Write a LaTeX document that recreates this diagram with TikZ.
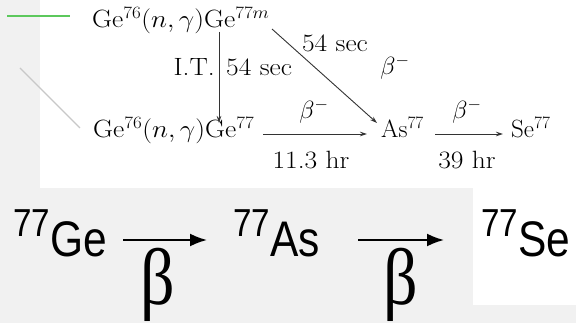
\documentclass[tikz,border=0pt]{standalone}
\usepackage{fontspec}
\usepackage{graphicx}
\usetikzlibrary{arrows.meta}
\newfontfamily\bsans[FakeStretch=0.85]{Liberation Sans}
\newfontfamily\bserif[FakeStretch=0.85]{Liberation Serif}
\definecolor{bggrey}{HTML}{F1F1F1}
\definecolor{topgreen}{HTML}{5CC85C}
\definecolor{lightline}{HTML}{C8C8C8}
\newcommand\isotope[2]{\raisebox{20pt}{\fontsize{39}{40}\selectfont #1}#2}
\newcommand\wide[1]{\scalebox{1.1}[1]{#1}}
\newcommand\widelbl[1]{\scalebox{1.1}[1]{#1}}
\begin{document}
\begin{tikzpicture}[x=1pt,y=-1pt,
  toptext/.style={font=\fontsize{25}{29}\selectfont, inner sep=0pt, text=black, anchor=base west},
  lbl/.style={font=\fontsize{25}{29}\selectfont, inner sep=0pt, text=black},
  thinarrow/.style={line width=0.9pt, black!80, -{Stealth[length=7pt,width=4.5pt]}},
  bigtext/.style={font=\bsans\fontsize{50}{60}\selectfont, inner sep=0pt, anchor=base west},
  bigarrow/.style={line width=2pt, -{Latex[length=17pt,width=13pt]}},
  betalbl/.style={font=\bserif\fontsize{80}{90}\selectfont, inner sep=0pt, anchor=base},
]
\useasboundingbox (0,0) rectangle (576,323);
% backgrounds
\fill[bggrey] (0,0) rectangle (576,323);
\fill[white] (40,0) rectangle (576,188);
\fill[white] (473,188) rectangle (576,305);
% decorative strokes
\coordinate (g1) at (7,16);
\coordinate (g2) at (70,16);
\draw[topgreen, line width=2pt] (g1) -- (g2);
\coordinate (d1) at (20,68);
\coordinate (d2) at (80,128);
\draw[lightline, line width=1.3pt] (d1) -- (d2);

% top scheme
\node[toptext] (ge77m) at (92,28) {\wide{Ge$^{76}$($n,\gamma$)Ge$^{77m}$}};
\node[toptext] (ge77) at (93,138) {\wide{Ge$^{76}$($n,\gamma$)Ge$^{77}$}};
\node[toptext] (as77) at (381,138) {As$^{77}$};
\node[toptext] (se77) at (511,138) {Se$^{77}$};

\coordinate (vtop) at (219,32);
\coordinate (vbot) at (219,123);
\draw[thinarrow] (vtop) -- (vbot);
\node[lbl, anchor=east] (it) at (215,67) {\widelbl{I.T.}};
\node[lbl, anchor=west] (sec1) at (226,67) {\widelbl{54 sec}};

\coordinate (dtop) at (272,29);
\coordinate (dbot) at (377,123);
\draw[thinarrow] (dtop) -- (dbot);
\node[lbl] (sec2) at (335,43) {\widelbl{54 sec}};
\node[lbl] (bd) at (395,67) {$\beta^-$};

\coordinate (h1a) at (263,134);
\coordinate (h1b) at (367,134);
\draw[thinarrow] (h1a) -- (h1b);
\node[lbl] (b1) at (314,111) {$\beta^-$};
\node[lbl] (t1) at (311,160) {\widelbl{11.3 hr}};

\coordinate (h2a) at (435,134);
\coordinate (h2b) at (503,134);
\draw[thinarrow] (h2a) -- (h2b);
\node[lbl] (b2) at (467,111) {$\beta^-$};
\node[lbl] (t2) at (467,160) {\widelbl{39 hr}};

% bottom scheme
\node[bigtext] (bge) at (13,257) {\isotope{77}{Ge}};
\node[bigtext] (bas) at (233,257) {\isotope{77}{As}};
\node[bigtext] (bse) at (481,257) {\isotope{77}{Se}};
\coordinate (a1s) at (123,240);
\coordinate (a1e) at (207,240);
\coordinate (a2s) at (358,240);
\coordinate (a2e) at (444,240);
\draw[bigarrow] (a1s) -- (a1e);
\draw[bigarrow] (a2s) -- (a2e);
\node[betalbl] (beta1) at (158,305) {β};
\node[betalbl] (beta2) at (401,305) {β};
\end{tikzpicture}
\end{document}
